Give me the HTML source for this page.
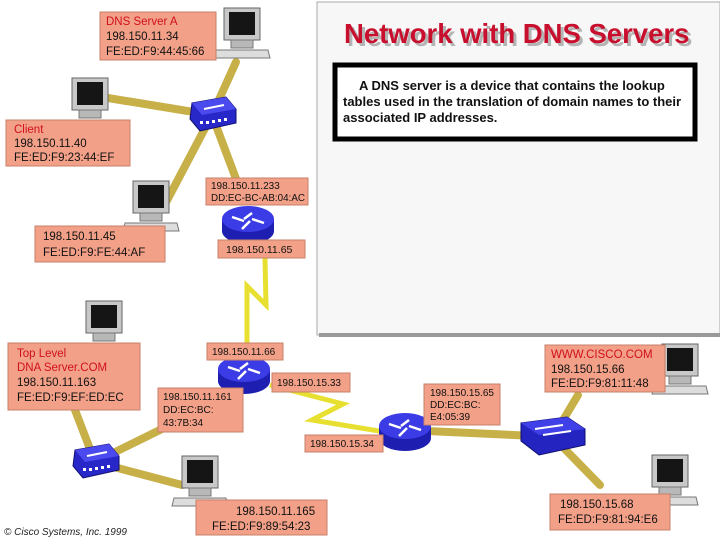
<!DOCTYPE html>
<html><head><meta charset="utf-8"><style>
html,body{margin:0;padding:0;background:#fff;}
svg{display:block;font-family:"Liberation Sans",sans-serif;}
.l{fill:#f2a088;stroke:#c88068;stroke-width:1;}
.t{font-size:11.5px;fill:#111;}
.s{font-size:10px;fill:#111;}
.r{font-size:11.5px;fill:#d0101a;}
</style></head><body>
<svg width="720" height="540" viewBox="0 0 720 540" xmlns="http://www.w3.org/2000/svg">
<defs>
<g id="pc">
 <rect x="2" y="0" width="36" height="32" fill="#c8c8c8" stroke="#666"/>
 <rect x="7" y="4" width="26" height="23" fill="#151515"/>
 <rect x="9" y="32" width="22" height="8" fill="#b8b8b8" stroke="#777"/>
 <polygon points="-6,42 46,42 48,50 -8,50" fill="#ddd" stroke="#777"/>
</g>
<g id="hub">
 <polygon points="-20,-12 14,-18 24,-6 24,8 -12,16 -22,4" fill="#2828c8" stroke="#101070"/>
 <polygon points="-20,-12 14,-18 24,-6 -10,0" fill="#4a4aee"/>
 <path d="M-8,-6 L12,-10" stroke="#fff" stroke-width="2"/>
 <g fill="#fff"><rect x="-12" y="6" width="3" height="3"/><rect x="-6" y="6" width="3" height="3"/><rect x="0" y="5" width="3" height="3"/><rect x="6" y="4" width="3" height="3"/><rect x="12" y="3" width="3" height="3"/></g>
</g>
<g id="rt">
 <ellipse cx="0" cy="6" rx="26" ry="13" fill="#1e1eb0"/>
 <rect x="-26" y="-6" width="52" height="12" fill="#1e1eb0"/>
 <ellipse cx="0" cy="-6" rx="26" ry="13" fill="#3c3ce6"/>
 <path d="M-16,-8 L-4,-4 M4,-12 L-4,-6 M16,-2 L4,-6 M-6,4 L2,-4" stroke="#fff" stroke-width="2.5"/>
</g>
</defs>

<rect x="317" y="2" width="403" height="333" fill="#f7f7f7" stroke="#aaa"/>
<rect x="319" y="333" width="401" height="4" fill="#999"/>
<text x="347" y="46" font-size="27.5" font-weight="bold" fill="#888" opacity="0.6">Network with DNS Servers</text>
<text x="344" y="43" font-size="27.5" font-weight="bold" fill="#c8102e">Network with DNS Servers</text>
<rect x="335" y="65" width="360" height="74" fill="#fff" stroke="#000" stroke-width="5"/>
<text font-size="13" font-weight="bold" fill="#111">
 <tspan x="359" y="90">A DNS server is a device that contains the lookup</tspan>
 <tspan x="343" y="106">tables used in the translation of domain names to their</tspan>
 <tspan x="343" y="122">associated IP addresses.</tspan>
</text>

<g stroke="#c8b048" stroke-width="8" fill="none" stroke-linecap="round">
 <line x1="212" y1="115" x2="236" y2="62"/>
 <line x1="212" y1="115" x2="108" y2="98"/>
 <line x1="212" y1="115" x2="163" y2="208"/>
 <line x1="212" y1="115" x2="244" y2="200"/>
 <line x1="95" y1="462" x2="75" y2="410"/>
 <line x1="95" y1="462" x2="182" y2="485"/>
 <line x1="95" y1="462" x2="170" y2="425"/>
 <line x1="405" y1="430" x2="535" y2="436"/>
 <line x1="553" y1="437" x2="578" y2="395"/>
 <line x1="553" y1="437" x2="600" y2="485"/>
</g>
<g stroke="#e8e030" stroke-width="5" fill="none" stroke-linejoin="miter">
 <polyline points="265,258 266,305 247,286 247,345"/>
 <polyline points="270,385 343,404 312,420 385,432"/>
</g>

<use href="#pc" x="222" y="8"/>
<use href="#pc" x="70" y="78"/>
<use href="#pc" x="131" y="181"/>
<use href="#pc" x="84" y="301"/>
<use href="#pc" x="180" y="456"/>
<use href="#pc" x="660" y="344"/>
<use href="#pc" x="650" y="455"/>
<use href="#hub" x="212" y="115"/>
<use href="#hub" x="95" y="462"/>
<use href="#rt" x="248" y="225"/>
<use href="#rt" x="244" y="375"/>
<use href="#rt" x="405" y="432"/>
<g transform="translate(553,437)">
 <polygon points="-32,-14 14,-20 32,-8 32,8 -14,18 -32,4" fill="#2424c0" stroke="#101070"/>
 <polygon points="-32,-14 14,-20 32,-8 -14,-2" fill="#4040e8"/>
 <path d="M-18,-8 L10,-12 M-10,-2 L18,-6" stroke="#fff" stroke-width="2"/>
</g>

<rect class="l" x="100" y="12" width="116" height="48"/>
<text x="106" y="25" class="r">DNS Server A</text><text x="106" y="40" class="t">198.150.11.34</text><text x="106" y="55" class="t">FE:ED:F9:44:45:66</text>

<rect class="l" x="6" y="120" width="124" height="46"/>
<text x="14" y="133" class="r">Client</text><text x="14" y="147" class="t">198.150.11.40</text><text x="14" y="161" class="t">FE:ED:F9:23:44:EF</text>

<rect class="l" x="35" y="226" width="130" height="36"/>
<text x="43" y="240" class="t">198.150.11.45</text><text x="43" y="256" class="t">FE:ED:F9:FE:44:AF</text>

<rect class="l" x="206" y="178" width="102" height="27"/>
<text x="211" y="189" class="s">198.150.11.233</text><text x="211" y="201" class="s" textLength="94" lengthAdjust="spacingAndGlyphs">DD:EC-BC-AB:04:AC</text>

<rect class="l" x="218" y="240" width="87" height="18"/>
<text x="226" y="253" class="s" style="font-size:10.5px">198.150.11.65</text>

<rect class="l" x="8" y="343" width="132" height="67"/>
<text x="17" y="357" class="r">Top Level</text><text x="17" y="371" class="r">DNA Server.COM</text><text x="17" y="386" class="t">198.150.11.163</text><text x="17" y="401" class="t">FE:ED:F9:EF:ED:EC</text>

<rect class="l" x="207" y="343" width="76" height="17"/>
<text x="212" y="355" class="s">198.150.11.66</text>

<rect class="l" x="272" y="373" width="78" height="19"/>
<text x="277" y="386" class="s">198.150.15.33</text>

<rect class="l" x="158" y="388" width="85" height="44"/>
<text x="163" y="400" class="s">198.150.11.161</text><text x="163" y="413" class="s">DD:EC:BC:</text><text x="163" y="426" class="s">43:7B:34</text>

<rect class="l" x="305" y="435" width="78" height="17"/>
<text x="310" y="447" class="s">198.150.15.34</text>

<rect class="l" x="196" y="500" width="131" height="35"/>
<text x="236" y="515" class="t">198.150.11.165</text><text x="212" y="530" class="t">FE:ED:F9:89:54:23</text>

<rect class="l" x="424" y="384" width="76" height="41"/>
<text x="430" y="396" class="s">198.150.15.65</text><text x="430" y="408" class="s">DD:EC:BC:</text><text x="430" y="420" class="s">E4:05:39</text>

<rect class="l" x="545" y="345" width="120" height="47"/>
<text x="551" y="358" class="r">WWW.CISCO.COM</text><text x="551" y="373" class="t">198.150.15.66</text><text x="551" y="387" class="t">FE:ED:F9:81:11:48</text>

<rect class="l" x="550" y="494" width="120" height="36"/>
<text x="560" y="508" class="t">198.150.15.68</text><text x="558" y="523" class="t">FE:ED:F9:81:94:E6</text>

<text x="4" y="535" font-size="10" font-style="italic" fill="#222">© Cisco Systems, Inc. 1999</text>
</svg>
</body></html>
